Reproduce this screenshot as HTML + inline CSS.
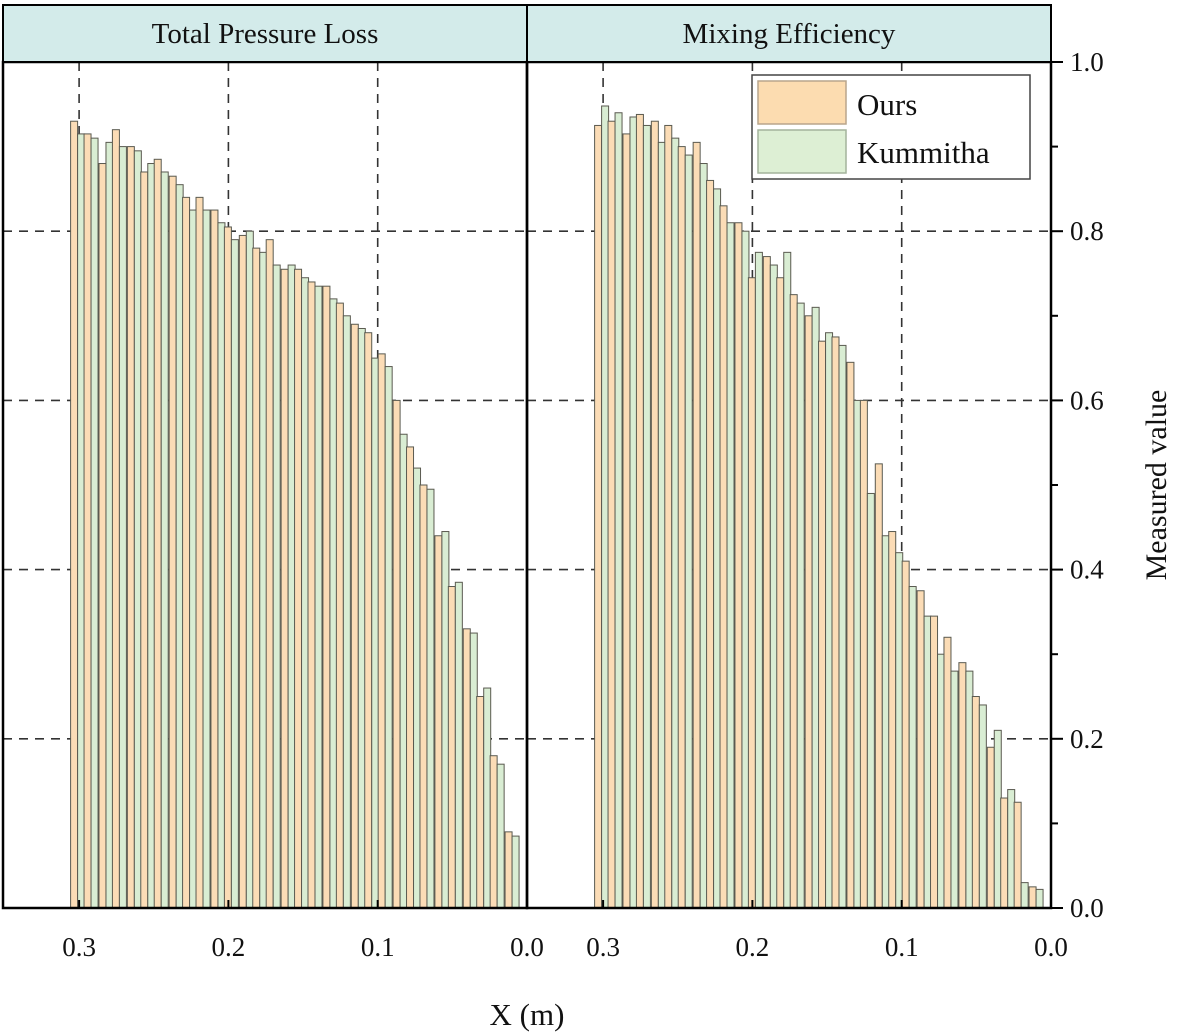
<!DOCTYPE html>
<html><head><meta charset="utf-8"><style>
html,body{margin:0;padding:0;background:#fff;}
svg{display:block;font-family:"Liberation Serif",serif;}
</style></head><body>
<svg id="chart" width="1181" height="1036" viewBox="0 0 1181 1036"></svg>
<script>
const categories=[0.301,0.292,0.282,0.273,0.263,0.254,0.245,0.235,0.226,0.217,0.207,0.198,0.188,0.179,0.170,0.160,0.151,0.142,0.132,0.123,0.113,0.104,0.095,0.085,0.076,0.067,0.057,0.048,0.038,0.029,0.020,0.010];
const lossBars=[0.93,0.915,0.915,0.91,0.88,0.905,0.92,0.90,0.90,0.895,0.87,0.88,0.885,0.87,0.865,0.855,0.84,0.825,0.84,0.825,0.825,0.81,0.805,0.79,0.795,0.80,0.78,0.775,0.79,0.76,0.755,0.76,0.755,0.745,0.74,0.735,0.735,0.72,0.715,0.70,0.69,0.685,0.68,0.65,0.655,0.64,0.60,0.56,0.545,0.52,0.50,0.495,0.44,0.445,0.38,0.385,0.33,0.325,0.25,0.26,0.18,0.17,0.09,0.085];
const mixBars=[0.925,0.948,0.93,0.94,0.915,0.935,0.938,0.925,0.93,0.905,0.925,0.91,0.90,0.89,0.905,0.88,0.86,0.85,0.83,0.81,0.81,0.80,0.745,0.775,0.77,0.76,0.745,0.775,0.725,0.715,0.70,0.71,0.67,0.68,0.675,0.665,0.645,0.60,0.60,0.49,0.525,0.44,0.445,0.42,0.41,0.38,0.375,0.345,0.345,0.30,0.32,0.28,0.29,0.28,0.25,0.24,0.19,0.21,0.13,0.14,0.125,0.03,0.025,0.022];
const yTicks=[0,0.2,0.4,0.6,0.8,1.0];
const yTickLabels=["0.0","0.2","0.4","0.6","0.8","1.0"];
const xTicks=[0.3,0.2,0.1,0.0];
const xTickLabels=["0.3","0.2","0.1","0.0"];
const panelTitles=["Total Pressure Loss","Mixing Efficiency"];

const svg=document.getElementById('chart');
const NS='http://www.w3.org/2000/svg';
function mk(tag,attrs,parent){const e=document.createElementNS(NS,tag);for(const k in attrs)e.setAttribute(k,attrs[k]);(parent||svg).appendChild(e);return e;}
const Y0=908,Y1=62;
function y(v){return Y0-(v)*(Y0-Y1);}
const panels=[{x0:3,zero:527},{x0:527,zero:1051}];
function xs(p,v){return p.zero-v*1493;}
const BW=7;

panels.forEach((p,pi)=>{
  const g=mk('g',{});
  
  
  // grid
  yTicks.forEach(t=>{if(t>0&&t<1){const l=mk('line',{x1:p.x0,x2:p.zero,y1:y(t),y2:y(t),stroke:'#333','stroke-width':1.6,'stroke-dasharray':'9,7'},g);}});
  xTicks.forEach(t=>{if(t>0){const l=mk('line',{x1:xs(p,t),x2:xs(p,t),y1:Y1,y2:Y0,stroke:'#333','stroke-width':1.6,'stroke-dasharray':'9,7'},g);}});
  const data=pi?mixBars:lossBars;
  categories.forEach((c,k)=>{
    const cx=xs(p,c);
    [0,1].forEach(s=>{
      const v=data[2*k+s];
      const r=mk('rect',{x:cx-BW+s*BW,y:y(v),width:BW,height:Y0-y(v),fill:s?'#d9edd3':'#fbdcb6',stroke:'#5a5a50','stroke-width':1},g);
      
      
    });
  });
  // frame
  const fr=mk('rect',{x:p.x0,y:Y1,width:p.zero-p.x0,height:Y0-Y1,fill:'none',stroke:'#000','stroke-width':2.5},g);
  
  const hd=mk('rect',{x:p.x0,y:5,width:p.zero-p.x0,height:57,fill:'#d3ebea',stroke:'#000','stroke-width':2},g);
  
  const tt=mk('text',{x:(p.x0+p.zero)/2,y:43,'text-anchor':'middle','font-size':29,fill:'#111'},g);
  tt.textContent=panelTitles[pi];
  
  xTicks.forEach((t,i)=>{
    mk('line',{x1:xs(p,t),x2:xs(p,t),y1:Y0,y2:Y0-8,stroke:'#000','stroke-width':2},g);
    const tx=mk('text',{x:xs(p,t),y:956,'text-anchor':'middle','font-size':27,fill:'#111'},g);
    tx.textContent=xTickLabels[i];
    
  });
});
// right axis ticks
yTicks.forEach((t,i)=>{
  mk('line',{x1:1051,x2:1063,y1:y(t),y2:y(t),stroke:'#000','stroke-width':2});
  const tx=mk('text',{x:1070,y:y(t)+9,'font-size':27,fill:'#111'});
  tx.textContent=yTickLabels[i];
  
});
[0.1,0.3,0.5,0.7,0.9].forEach(t=>mk('line',{x1:1051,x2:1058,y1:y(t),y2:y(t),stroke:'#000','stroke-width':2}));
const yt=mk('text',{x:1166,y:485,'text-anchor':'middle','font-size':30,fill:'#111',transform:'rotate(-90 1166 485)'});
yt.textContent='Measured value';

const xt=mk('text',{x:527,y:1025,'text-anchor':'middle','font-size':31,fill:'#111'});
xt.textContent='X (m)';

// legend
const lg=mk('g',{});

mk('rect',{x:752,y:75,width:278,height:104,fill:'#fff',stroke:'#444','stroke-width':1.5},lg);
const e1=mk('rect',{x:758,y:81,width:88,height:43,fill:'#fcdcb0',stroke:'#b9a58c','stroke-width':1.5},lg);

const e2=mk('rect',{x:758,y:130,width:88,height:43,fill:'#ddefd4',stroke:'#a3b39c','stroke-width':1.5},lg);

const l1=mk('text',{x:857,y:115,'font-size':31,fill:'#111'},lg);l1.textContent='Ours';

const l2=mk('text',{x:857,y:163,'font-size':31,fill:'#111'},lg);l2.textContent='Kummitha';

</script>
</body></html>
